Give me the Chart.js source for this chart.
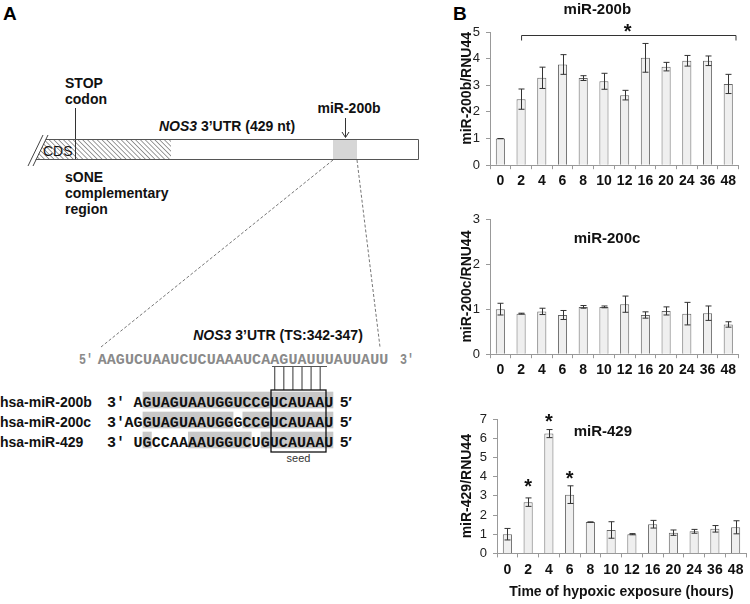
<!DOCTYPE html>
<html>
<head>
<meta charset="utf-8">
<script src="https://cdn.jsdelivr.net/npm/chart.js@4.4.0/dist/chart.umd.min.js"></script>
<style>
  body { margin: 0; width: 750px; height: 604px; background: #fff; position: relative; overflow: hidden; }
  #diagram { position: absolute; left: 0; top: 0; }
  canvas { position: absolute; }
  .b { font: bold 14px "Liberation Sans", Arial, sans-serif; fill: #111; }
  .seq { font: bold 15px "Liberation Mono", "Courier New", monospace; }
</style>
</head>
<body>
<svg id="diagram" width="750" height="604" xmlns="http://www.w3.org/2000/svg">
  <defs>
    <pattern id="hatch" width="3.4" height="3.4" patternUnits="userSpaceOnUse" patternTransform="rotate(-45)">
      <line x1="0" y1="0" x2="0" y2="3.4" stroke="#222" stroke-width="0.9"/>
    </pattern>
  </defs>
  <text x="3" y="20" style="font: bold 19px 'Liberation Sans', Arial, sans-serif">A</text>
  <text x="453" y="20" style="font: bold 19px 'Liberation Sans', Arial, sans-serif">B</text>

  <text x="65" y="88" class="b">STOP</text>
  <text x="65" y="104" class="b">codon</text>
  <line x1="75.5" y1="108" x2="75.5" y2="159.5" stroke="#333"/>

  <text x="349" y="113" text-anchor="middle" class="b">miR-200b</text>
  <line x1="345.5" y1="118" x2="345.5" y2="137" stroke="#333"/>
  <polyline points="342,132 345.5,137.5 349,132" fill="none" stroke="#333"/>

  <text x="227" y="131" text-anchor="middle" class="b"><tspan font-style="italic">NOS3</tspan> 3’UTR (429 nt)</text>

  <polygon points="45.75,139.5 171,139.5 171,159.5 35.75,159.5" fill="url(#hatch)"/>
  <rect x="333" y="140" width="24" height="19" fill="#d6d6d6"/>
  <line x1="45.75" y1="139.5" x2="418.5" y2="139.5" stroke="#555"/>
  <line x1="35.75" y1="159.5" x2="418.5" y2="159.5" stroke="#555"/>
  <line x1="418.5" y1="139.5" x2="418.5" y2="159.5" stroke="#555"/>
  <line x1="28" y1="166" x2="43" y2="135" stroke="#444"/>
  <line x1="33" y1="166" x2="48" y2="135" stroke="#444"/>
  <text x="43" y="156" style="font: 14px 'Liberation Sans', Arial, sans-serif" fill="#111">CDS</text>

  <text x="65" y="182" class="b">sONE</text>
  <text x="65" y="198" class="b">complementary</text>
  <text x="65" y="214" class="b">region</text>

  <line x1="333" y1="160" x2="101" y2="347" stroke="#777" stroke-dasharray="3 2"/>
  <line x1="357" y1="160" x2="380" y2="347" stroke="#777" stroke-dasharray="3 2"/>

  <text x="278" y="340" text-anchor="middle" class="b"><tspan font-style="italic">NOS3</tspan> 3’UTR (TS:342-347)</text>
  <g id="seqs"></g>
  <rect x="271" y="390" width="55" height="62" fill="none" stroke="#111" stroke-width="1.3"/>
  <text x="298.5" y="462" text-anchor="middle" style="font: 11px 'Liberation Sans', Arial, sans-serif" fill="#333">seed</text>
</svg>

<canvas id="c1" width="294" height="194" style="left:456px;top:0px"></canvas>
<canvas id="c2" width="294" height="183" style="left:456px;top:200px"></canvas>
<canvas id="c3" width="294" height="209" style="left:456px;top:395px"></canvas>

<script>
// chart values
const hours = ['0', '2', '4', '6', '8', '10', '12', '16', '20', '24', '36', '48']
const mir200b = [1.0, 2.48, 3.28, 3.78, 3.27, 3.15, 2.63, 4.03, 3.70, 3.92, 3.92, 3.05]
const mir200bErr = [0, 0.38, 0.40, 0.37, 0.09, 0.30, 0.18, 0.54, 0.16, 0.20, 0.18, 0.36]
const mir200c = [1.00, 0.90, 0.95, 0.87, 1.05, 1.05, 1.11, 0.87, 0.96, 0.90, 0.91, 0.66]
const mir200cErr = [0.13, 0.01, 0.07, 0.10, 0.03, 0.02, 0.18, 0.07, 0.09, 0.25, 0.16, 0.06]
const mir429 = [1.0, 2.67, 6.24, 3.06, 1.63, 1.22, 1.0, 1.52, 1.08, 1.15, 1.28, 1.36]
const mir429Err = [0.3, 0.22, 0.21, 0.46, 0.01, 0.43, 0.03, 0.2, 0.14, 0.1, 0.17, 0.34]
const stars429 = [null, 3.7, 7.11, 4.14, null, null, null, null, null, null, null, null]

const FONT = '"Liberation Sans", Arial, sans-serif'

// sequence part of panel A
const CW = 9.08
const topSeq = 'AAGUCUAAUCUCUAAAUCAAGUAUUUAUUAUU'
const mirRows = [
    {label: 'hsa-miR-200b', seq: 'AGUAGUAAUGGUCCGUCAUAAU', y: 407, hl: [[1, 21]]},
    {label: 'hsa-miR-200c', seq: 'AGGUAGUAAUGGGCCGUCAUAAU', y: 427, hl: [[2, 11], [13, 22]]},
    {label: 'hsa-miR-429', seq: 'UGCCAAAAUGGUCUGUCAUAAU', y: 447, hl: [[1, 1], [6, 12], [14, 21]]}
]

let svg = ''
const topX = 97.7
svg += `<text x="79" y="364" class="seq" fill="#8a8a8a" textLength="14" lengthAdjust="spacingAndGlyphs">5′</text>`
svg += `<text x="${topX}" y="364" class="seq" fill="#8a8a8a" textLength="${topSeq.length * CW}" lengthAdjust="spacing">${topSeq}</text>`
svg += `<text x="400" y="364" class="seq" fill="#8a8a8a" textLength="14" lengthAdjust="spacingAndGlyphs">3′</text>`
svg += `<line x1="272" y1="366.5" x2="327" y2="366.5" stroke="#555"/>`
for (let i = 19; i <= 24; i++) {
    const x = topX + CW * (i + 0.5)
    svg += `<line x1="${x}" y1="367" x2="${x}" y2="390" stroke="#333"/>`
}
mirRows.forEach(r => {
    const x0 = 333.3 - r.seq.length * CW
    r.hl.forEach(([a, b]) => {
        svg += `<rect x="${x0 + a * CW}" y="${r.y - 15.3}" width="${(b - a + 1) * CW}" height="16.6" fill="#c8c8c8"/>`
    })
    svg += `<text x="0" y="${r.y}" class="b">${r.label}</text>`
    svg += `<text x="107" y="${r.y}" class="seq" fill="#111">3′</text>`
    svg += `<text x="${x0}" y="${r.y}" class="seq" fill="#111" textLength="${r.seq.length * CW}" lengthAdjust="spacing">${r.seq}</text>`
    svg += `<text x="340" y="${r.y}" style="font: bold 15px 'Liberation Sans', Arial, sans-serif" fill="#111">5′</text>`
})
document.getElementById('seqs').innerHTML = svg

// error bars, stars, bracket and in-plot labels
const extras = {
    id: 'extras',
    afterDatasetsDraw(chart) {
        const ctx = chart.ctx
        const ds = chart.data.datasets[0]
        const meta = chart.getDatasetMeta(0)
        const xs = chart.scales.x
        const ys = chart.scales.y
        ctx.save()
        ctx.strokeStyle = '#333'
        ctx.lineWidth = 1
        ds.err.forEach((e, i) => {
            const v = ds.data[i]
            const x = Math.round(meta.data[i].x) + 0.5
            const top = ys.getPixelForValue(v + e)
            const bot = ys.getPixelForValue(v - e)
            ctx.beginPath()
            ctx.moveTo(x, top); ctx.lineTo(x, bot)
            ctx.moveTo(x - 3, top); ctx.lineTo(x + 3, top)
            ctx.moveTo(x - 3, bot); ctx.lineTo(x + 3, bot)
            ctx.stroke()
        })
        ctx.fillStyle = '#111'
        ctx.textAlign = 'center'
        ctx.textBaseline = 'alphabetic'
        ctx.font = 'bold 20px ' + FONT
        if (ds.stars) ds.stars.forEach((s, i) => {
            if (s === null) return
            ctx.fillText('*', meta.data[i].x, ys.getPixelForValue(s) + 11)
        })
        if (ds.bracket) {
            const b = ds.bracket
            const x1 = xs.getPixelForValue(b.from) + 0.5
            const x2 = xs.getPixelForValue(b.to) + 0.5
            const y = Math.round(ys.getPixelForValue(b.y)) + 0.5
            ctx.beginPath()
            ctx.moveTo(x1, y + 5); ctx.lineTo(x1, y); ctx.lineTo(x2, y); ctx.lineTo(x2, y + 5)
            ctx.stroke()
            ctx.fillText('*', xs.getPixelForValue(b.starX), ys.getPixelForValue(b.starY) + 11)
        }
        if (ds.inner) {
            ctx.font = 'bold 15px ' + FONT
            ctx.textBaseline = 'middle'
            ctx.fillText(ds.inner.text, xs.getPixelForValue(ds.inner.x), ys.getPixelForValue(ds.inner.y))
        }
        ctx.restore()
    }
}

const makeChart = (id, cfg) => {
    new Chart(document.getElementById(id).getContext('2d'), {
        type: 'bar',
        data: {
            labels: hours,
            datasets: [{
                data: cfg.data,
                err: cfg.err,
                stars: cfg.stars,
                bracket: cfg.bracket,
                inner: cfg.inner,
                backgroundColor: '#efefef',
                borderColor: '#666',
                borderWidth: 1,
                barPercentage: 0.44,
                categoryPercentage: 1
            }]
        },
        options: {
            responsive: false,
            animation: false,
            events: [],
            layout: {padding: cfg.padding},
            plugins: {
                legend: {display: false},
                tooltip: {enabled: false},
                title: cfg.title ? {
                    display: true, text: cfg.title, color: '#111',
                    font: {size: 15, weight: 'bold', family: FONT},
                    padding: {top: 1, bottom: 13}
                } : {display: false}
            },
            scales: {
                x: {
                    grid: {drawOnChartArea: false, tickLength: 4, color: '#999'},
                    border: {color: '#999'},
                    ticks: {font: {size: 14, weight: 'bold', family: FONT}, color: '#111', padding: 4, autoSkip: false, maxRotation: 0},
                    title: cfg.xTitle ? {
                        display: true, text: cfg.xTitle, color: '#111',
                        font: {size: 14, weight: 'bold', family: FONT},
                        padding: {top: 2, bottom: 3}
                    } : {display: false}
                },
                y: {
                    min: 0,
                    max: cfg.max,
                    afterFit: s => { s.width = cfg.yWidth },
                    grid: {drawOnChartArea: false, tickLength: 4, color: '#999'},
                    border: {color: '#999'},
                    ticks: {stepSize: 1, font: {size: 13, family: FONT}, color: '#222', padding: 6},
                    title: {
                        display: true, text: cfg.yTitle, color: '#111', align: cfg.yAlign || 'center',
                        font: {size: 14, weight: 'bold', family: FONT},
                        padding: {top: 2.6, bottom: 0}
                    }
                }
            }
        },
        plugins: [extras]
    })
}

makeChart('c1', {
    data: mir200b, err: mir200bErr, max: 5, yWidth: 34,
    title: 'miR-200b', yTitle: 'miR-200b/RNU44', yAlign: 'end',
    bracket: {from: 1, to: 11.35, y: 4.88, starX: 6.15, starY: 5.19},
    padding: {top: 0, right: 11.4, bottom: 0, left: 0}
})
makeChart('c2', {
    data: mir200c, err: mir200cErr, max: 3, yWidth: 34,
    yTitle: 'miR-200c/RNU44',
    inner: {text: 'miR-200c', x: 5.15, y: 2.55},
    padding: {top: 19, right: 11.4, bottom: 0, left: 0}
})
makeChart('c3', {
    data: mir429, err: mir429Err, stars: stars429, max: 7, yWidth: 41,
    yTitle: 'miR-429/RNU44', xTitle: 'Time of hypoxic exposure (hours)',
    inner: {text: 'miR-429', x: 4.6, y: 6.35},
    padding: {top: 24, right: 4, bottom: 0, left: 0}
})
</script>
</body>
</html>
